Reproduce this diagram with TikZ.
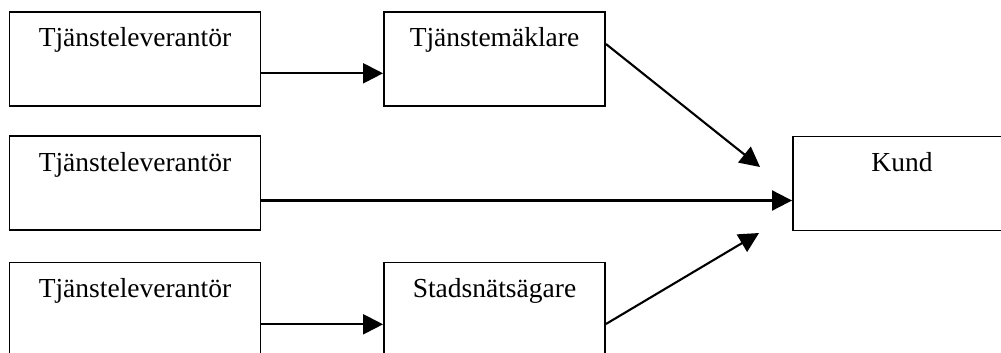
\documentclass[tikz,border=0pt]{standalone}
\usepackage{fontspec}
\setmainfont{Liberation Serif}
\usetikzlibrary{arrows.meta,calc}
\begin{document}
\begin{tikzpicture}[x=1pt,y=1pt,
  box/.style={draw=black,line width=1.9pt,rectangle,inner sep=0pt,
    minimum height=94pt,text height=35pt,text depth=59pt,
    font=\fontsize{27.5}{31}\selectfont},
  conn/.style={line width=2.1pt,-{Triangle[length=20pt,width=20pt]}}]
\clip (0,0) rectangle (1001,-353);
\fill[white] (0,0) rectangle (1001,-353);
\node[box,minimum width=251pt] (b1) at (135,-59) {Tjänsteleverantör};
\node[box,minimum width=221pt] (b2) at (494.5,-59) {Tjänstemäklare};
\node[box,minimum width=251pt] (b3) at (135,-183) {Tjänsteleverantör};
\node[box,minimum width=218pt] (k) at (902,-183.5) {Kund};
\node[box,minimum width=251pt] (b5) at (135,-309.5) {Tjänsteleverantör};
\node[box,minimum width=221pt] (b6) at (494.5,-309.5) {Stadsnätsägare};
\coordinate (t1) at ($(k.west)+(-32,16.5)$);
\coordinate (t2) at ($(k.west)+(-33,-49.5)$);
\draw[conn] ($(b1.east)+(0,-14.3)$) -- ($(b2.west)+(0,-14.3)$);
\draw[conn] ($(b2.east)+(0,15)$) -- (t1);
\draw[conn] ($(b3.east)+(0,-17.5)$) -- ($(k.west)+(0,-17)$);
\draw[conn] ($(b6.east)+(0,-14.5)$) -- (t2);
\draw[conn] ($(b5.east)+(0,-14.8)$) -- ($(b6.west)+(0,-14.8)$);
\end{tikzpicture}
\end{document}
